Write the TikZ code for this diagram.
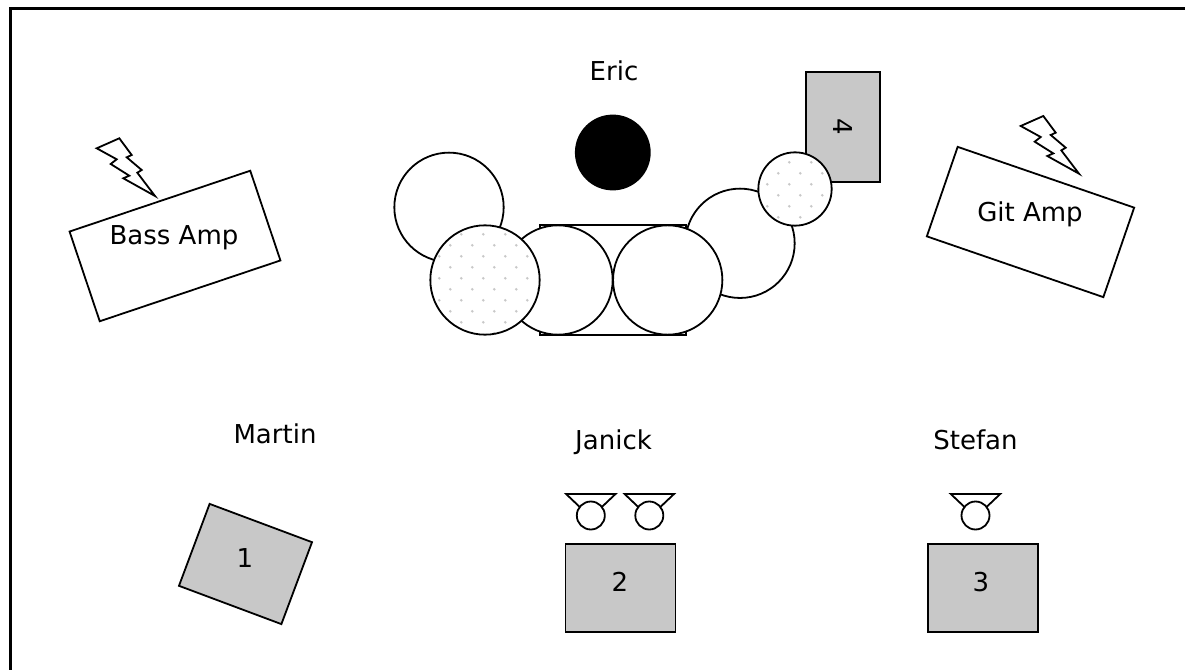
\documentclass[tikz,border=0pt]{standalone}
\usepackage{fontspec}
\setmainfont{DejaVu Sans}
\definecolor{boxgray}{HTML}{C8C8C8}
\begin{document}
\begin{tikzpicture}[%
x=0.75pt, y=-0.75pt, line width=1.35pt,
% common options for the boxes:
amp/.style = {rectangle, draw, fill=white, outer sep=0, inner sep=0},
riser/.style = {rectangle, draw, fill=boxgray, outer sep=0, inner sep=0},
% common options for the kit:
drum/.style = {circle, draw, fill=white, outer sep=0, inner sep=0, minimum size=82pt},
cymbal/.style 2 args = {drum, path picture={
  \begin{scope}[shift={(path picture bounding box.center)}]
  \foreach \r in {-6,...,6} \foreach \c in {-6,...,6}
    \fill[boxgray] ({#1+22*\c+11*\r},{#2+11*\r}) circle (1.05pt);
  \end{scope}}},
% common options for the texts:
caption/.style = {anchor=base, inner sep=0, font=\fontsize{19.5}{23}\selectfont},
% the lightning over an amp and the wedge of a monitor:
bolt/.pic = {\draw[line join=miter] (96.7,148.3) -- (119.3,138.3) -- (131.7,155) -- (126.7,157.3)
  -- (141.7,170) -- (137.3,172.7) -- (155,196) -- (123.3,178.3) -- (129.3,175.7)
  -- (110.7,164) -- (116.7,159.3) -- cycle;},
monitor/.pic = {\draw (-24.7,-21.5) -- (24.7,-21.5) -- (0,2) -- cycle;
  \node[drum, minimum size=21pt] (-cone) at (0,0) {};}]
\useasboundingbox (0,0) rectangle (1185,670);
% frame, only two sides show
\coordinate (FR) at (1185,8.5);
\coordinate (FC) at (10.5,8.5);
\coordinate (FB) at (10.5,670);
\draw[line width=1.6pt] (FR) -- (FC) -- (FB);
% amps
\node[amp,minimum width=143pt,minimum height=71pt,rotate=18.6] (BA) at (175,246) {};
\node[caption] (BT) at (174,244.3) {Bass Amp};
\pic at (0,0) {bolt};
\node[amp,minimum width=140pt,minimum height=71pt,rotate=-19] (GA) at (1030.5,222) {};
\node[caption] (GT) at (1030,221.7) {Git Amp};
\pic at (924,-22.3) {bolt};
% kit, back to front
\node[caption] (E) at (614,81) {Eric};
\node[drum,fill=black,minimum size=55.5pt] (ST) at (612.8,152.5) {};
\node[drum] (T1) at (449,207.3) {};
\node[drum] (T2) at (740,243.3) {};
\node[riser,font=\fontsize{19.5}{23}\selectfont,minimum width=82pt,minimum height=55pt,rotate=-90] (R4) at (843,127) {4};
\node[amp,minimum width=109.5pt,minimum height=82pt] (K) at (612.8,280) {};
\node[drum] (K1) at (558,280) {};
\node[drum] (K2) at (667.7,280) {};
\node[cymbal={-1.7}{-1.7}] (C1) at (485,280) {};
\node[cymbal={-5.7}{-4.7},minimum size=55pt] (C2) at (795,189) {};
% front line
\node[caption] (M) at (275,443) {Martin};
\node[caption] (J) at (613.5,449) {Janick};
\node[caption] (S) at (975.5,449) {Stefan};
\node[riser,minimum width=82pt,minimum height=65.6pt,rotate=-20.5] (R1) at (245.5,564) {};
\node[caption] (N1) at (245,567) {1};
\node[riser,minimum width=82.5pt,minimum height=65.6pt] (R2) at (620.5,588) {};
\node[caption] (N2) at (620,591) {2};
\node[riser,minimum width=82.5pt,minimum height=65.6pt] (R3) at (982.7,588) {};
\node[caption] (N3) at (981,591) {3};
\pic (M1) at (590.8,515.5) {monitor};
\pic (M2) at (649.3,515.5) {monitor};
\pic (M3) at (975.5,515.5) {monitor};
\end{tikzpicture}
\end{document}
